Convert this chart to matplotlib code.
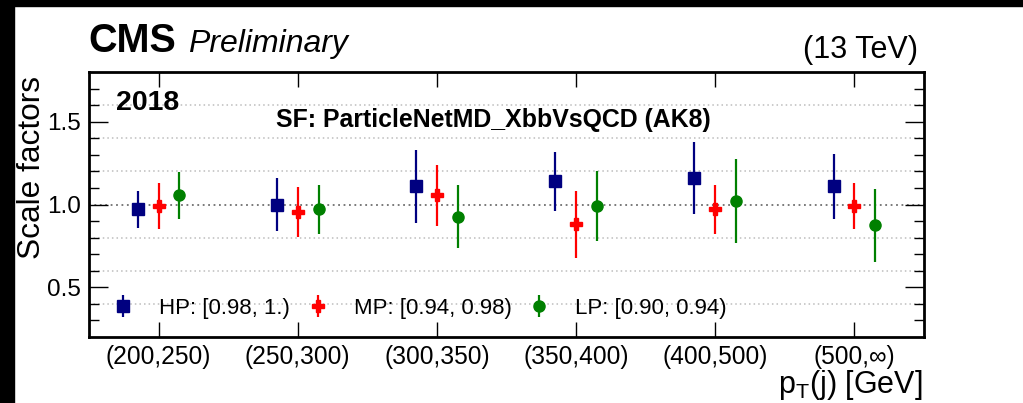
import numpy as np
import matplotlib
matplotlib.use('Agg')
import matplotlib.pyplot as plt
from matplotlib.patches import Rectangle

plt.rcParams['font.family'] = ['Liberation Sans', 'DejaVu Sans']
plt.rcParams['mathtext.fontset'] = 'custom'
plt.rcParams['mathtext.rm'] = 'Liberation Sans'

# pT bins
bins = ['(200,250)', '(250,300)', '(300,350)', '(350,400)', '(400,500)', '(500,\u221e)']

# scale factors with (symmetric) uncertainties
hp_val = [0.97, 1.00, 1.11, 1.14, 1.16, 1.11]
hp_err = [0.11, 0.16, 0.22, 0.18, 0.215, 0.195]
mp_val = [0.99, 0.955, 1.055, 0.88, 0.97, 0.99]
mp_err = [0.137, 0.152, 0.184, 0.203, 0.15, 0.14]
lp_val = [1.055, 0.97, 0.925, 0.99, 1.02, 0.875]
lp_err = [0.14, 0.15, 0.19, 0.21, 0.255, 0.22]

labels = ['HP: [0.98, 1.)', 'MP: [0.94, 0.98)', 'LP: [0.90, 0.94)']
grid_levels = [0.4, 0.6, 0.8, 1.0, 1.2, 1.4, 1.6]

fig = plt.figure(figsize=(10.23, 4.03), dpi=100)
ax = fig.add_axes([0.0870, 0.1638, 0.8162, 0.6575])

x = np.arange(len(bins))

# dotted grid, the line at 1 is darker
for g in grid_levels:
    if g == 1.0:
        ax.axhline(g, color='#707070', ls=(0, (1, 2)), lw=1.3, zorder=1)
    else:
        ax.axhline(g, color='#bdbdbd', ls=(0, (1, 2)), lw=1.1, zorder=1)

ax.errorbar(x - 0.15, hp_val, yerr=hp_err, fmt='s', color='#000080',
            ms=8, elinewidth=1.6, capsize=0, label=labels[0], zorder=3)
ax.errorbar(x, mp_val, yerr=mp_err, fmt='P', color='#ff0000',
            ms=8.5, elinewidth=1.6, capsize=0, label=labels[1], zorder=3)
ax.errorbar(x + 0.15, lp_val, yerr=lp_err, fmt='o', color='#008000',
            ms=8, elinewidth=1.6, capsize=0, label=labels[2], zorder=3)

ax.set_xlim(-0.5, len(bins) - 0.5)
ax.set_ylim(0.2, 1.8)
ax.set_xticks(x)
ax.set_xticklabels(bins, fontsize=17.7)
ax.set_yticks([0.5, 1.0, 1.5])
ax.set_yticklabels(['0.5', '1.0', '1.5'], fontsize=17.5)
ax.set_yticks(np.arange(0.3, 1.75, 0.1), minor=True)

ax.tick_params(axis='x', which='major', direction='in', length=11, width=1.0,
               top=True, pad=6)
ax.tick_params(axis='y', which='major', direction='in', length=14, width=1.0,
               right=True, pad=6)
ax.tick_params(axis='y', which='minor', direction='in', length=7, width=1.0,
               right=True)
for s in ax.spines.values():
    s.set_linewidth(2.0)

ax.set_ylabel('Scale factors', fontsize=22.8, ha='right')
ax.yaxis.set_label_coords(-0.050, 0.985)
ax.set_xlabel(r'p$_\mathrm{T}$(j) [GeV]', fontsize=22, ha='right', va='baseline')
ax.xaxis.set_label_coords(0.998, -0.211)

leg = ax.legend(loc='center left', bbox_to_anchor=(0.0084, 0.107), ncol=3,
                frameon=False, fontsize=16, handlelength=1.2,
                handletextpad=1.02, columnspacing=0.66, borderaxespad=0.2)

# headers
fig.text(88 / 1023, 1 - 52 / 403, 'CMS', fontsize=28.5, fontweight='bold',
         va='baseline', ha='left')
fig.text(188 / 1023, 1 - 52 / 403, 'Preliminary', fontsize=23,
         fontstyle='italic', va='baseline', ha='left')
fig.text(918 / 1023, 1 - 58 / 403, '(13 TeV)', fontsize=22,
         va='baseline', ha='right')
fig.text(116 / 1023, 1 - 110 / 403, '2018', fontsize=20.5, fontweight='bold',
         va='baseline', ha='left')
fig.text(493 / 1023, 1 - 127 / 403, 'SF: ParticleNetMD_XbbVsQCD (AK8)',
         fontsize=17.9, fontweight='bold', va='baseline', ha='center')

# black frame strips of the screenshot
fig.patches.append(Rectangle((0, 1 - 6 / 403), 1, 6 / 403, transform=fig.transFigure,
                             color='black', zorder=10))
fig.patches.append(Rectangle((0, 0), 14 / 1023, 1, transform=fig.transFigure,
                             color='black', zorder=10))

fig.savefig('out.png', dpi=100)
